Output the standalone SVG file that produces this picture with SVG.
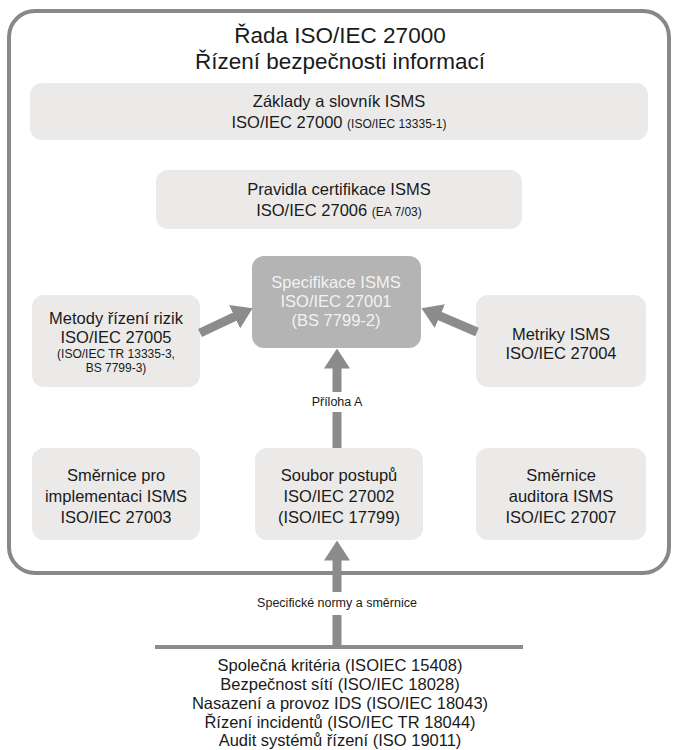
<svg xmlns="http://www.w3.org/2000/svg" width="683" height="750" viewBox="0 0 683 750">
<defs>
<style>
text{font-family:"Liberation Sans",Arial,sans-serif;fill:#1a1a1a;text-anchor:middle}
.t{font-size:22.5px}
.m{font-size:16.5px}
.s{font-size:12px}
.lbl{font-size:12.5px}
.box{fill:#ebeae9}
.spec{fill:#b4b4b4}
.spec text{fill:#f2f2f2}
.con{stroke:#8c8c8c;stroke-width:9;fill:none}
</style>
<marker id="ah" viewBox="0 0 20 26" markerWidth="20" markerHeight="26" refX="0.5" refY="13" orient="auto" markerUnits="userSpaceOnUse">
<path d="M0,0 L20,13 L0,26 z" fill="#8c8c8c"/>
</marker>
</defs>
<rect id="frame" x="9" y="11" width="660" height="562" rx="26" fill="#fff" stroke="#888" stroke-width="4"/>
<g id="title">
<text class="t" x="340" y="43">Řada ISO/IEC 27000</text>
<text class="t" x="340" y="69">Řízení bezpečnosti informací</text>
</g>
<g id="n27000">
<rect class="box" x="30" y="83" width="618" height="57" rx="12"/>
<text class="m" x="339" y="107">Základy a slovník ISMS</text>
<text class="m" x="339" y="128">ISO/IEC 27000 <tspan class="s">(ISO/IEC 13335-1)</tspan></text>
</g>
<g id="n27006">
<rect class="box" x="156" y="170" width="366" height="59" rx="12"/>
<text class="m" x="339" y="195">Pravidla certifikace ISMS</text>
<text class="m" x="339" y="216">ISO/IEC 27006 <tspan class="s">(EA 7/03)</tspan></text>
</g>
<g id="n27001" class="spec">
<rect x="252" y="256" width="169" height="92" rx="12"/>
<text class="m" x="336" y="288">Specifikace ISMS</text>
<text class="m" x="336" y="307">ISO/IEC 27001</text>
<text class="m" x="336" y="326">(BS 7799-2)</text>
</g>
<g id="n27005">
<rect class="box" x="32" y="295" width="168" height="92" rx="12"/>
<text class="m" x="116" y="324">Metody řízení rizik</text>
<text class="m" x="116" y="343">ISO/IEC 27005</text>
<text class="s" x="116" y="358">(ISO/IEC TR 13335-3,</text>
<text class="s" x="116" y="372">BS 7799-3)</text>
</g>
<g id="n27004">
<rect class="box" x="476" y="295" width="170" height="92" rx="12"/>
<text class="m" x="561" y="340">Metriky ISMS</text>
<text class="m" x="561" y="359">ISO/IEC 27004</text>
</g>
<g id="n27003">
<rect class="box" x="32" y="448" width="168" height="92" rx="12"/>
<text class="m" x="116" y="481">Směrnice pro</text>
<text class="m" x="116" y="502">implementaci ISMS</text>
<text class="m" x="116" y="523">ISO/IEC 27003</text>
</g>
<g id="n27002">
<rect class="box" x="255" y="448" width="168" height="92" rx="12"/>
<text class="m" x="339" y="481">Soubor postupů</text>
<text class="m" x="339" y="502">ISO/IEC 27002</text>
<text class="m" x="339" y="523">(ISO/IEC 17799)</text>
</g>
<g id="n27007">
<rect class="box" x="476" y="448" width="170" height="92" rx="12"/>
<text class="m" x="561" y="481">Směrnice</text>
<text class="m" x="561" y="502">auditora ISMS</text>
<text class="m" x="561" y="523">ISO/IEC 27007</text>
</g>
<g id="connectors">
<path class="con" d="M200,333 L235,316.5" marker-end="url(#ah)"/>
<path class="con" d="M477,332 L439.4,315.9" marker-end="url(#ah)"/>
<path class="con" d="M337,448 V412 M337,392 V368" marker-end="url(#ah)"/>
<text class="lbl" x="337" y="406">Příloha A</text>
<path class="con" d="M337,647 V615 M337,592 V560" marker-end="url(#ah)"/>
<text class="lbl" x="337" y="607">Specifické normy a směrnice</text>
<line x1="155" y1="647" x2="523" y2="647" stroke="#8c8c8c" stroke-width="4"/>
</g>
<g id="standards">
<text class="m" x="340" y="671">Společná kritéria (ISOIEC 15408)</text>
<text class="m" x="340" y="690">Bezpečnost sítí (ISO/IEC 18028)</text>
<text class="m" x="340" y="709">Nasazení a provoz IDS (ISO/IEC 18043)</text>
<text class="m" x="340" y="728">Řízení incidentů (ISO/IEC TR 18044)</text>
<text class="m" x="340" y="746">Audit systémů řízení (ISO 19011)</text>
</g>
</svg>
